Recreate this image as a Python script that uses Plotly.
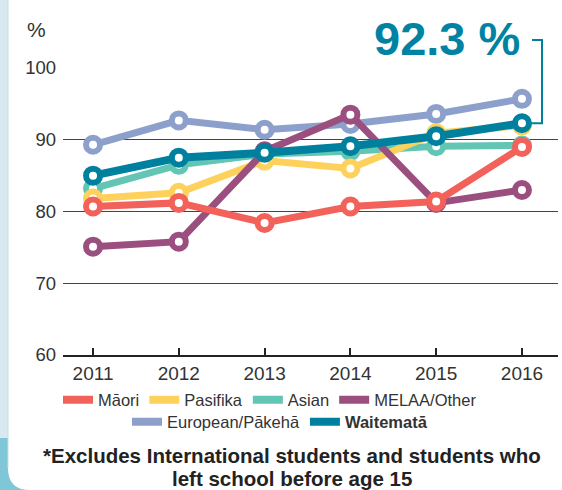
import plotly.graph_objects as go

years = [2011, 2012, 2013, 2014, 2015, 2016]
maori = [80.7, 81.2, 78.4, 80.7, 81.4, 89.0]
pasifika = [81.8, 82.6, 87.1, 86.0, 90.9, 92.0]
asian = [83.2, 86.5, 88.0, 88.4, 89.1, 89.2]
melaa = [75.1, 75.8, 88.4, 93.5, 81.2, 83.0]
european = [89.3, 92.7, 91.4, 92.2, 93.6, 95.7]
waitemata = [85.0, 87.5, 88.2, 89.1, 90.5, 92.3]
y_ticks = [60, 70, 80, 90, 100]
Y_MIN, Y_MAX = 60, 100

C_MAORI = "#f2625a"
C_PAS = "#fdd15b"
C_ASIAN = "#63c5b3"
C_MELAA = "#9a4f7f"
C_EURO = "#8da0cc"
C_WAIT = "#00809f"

W, H = 562, 490
L, R, T, B = 63, 4, 68, 135
PW, PH = W - L - R, H - T - B

def px(x):
    return (x - L) / PW

def py(y):
    return (H - B - y) / PH

def vy(v):
    return (v - Y_MIN) / (Y_MAX - Y_MIN)

fig = go.Figure()

series = [
    ("European/Pākehā", european, C_EURO, 7),
    ("Asian", asian, C_ASIAN, 7),
    ("Pasifika", pasifika, C_PAS, 7),
    ("MELAA/Other", melaa, C_MELAA, 7),
    ("Māori", maori, C_MAORI, 7),
    ("Waitematā", waitemata, C_WAIT, 8),
]
for name, vals, col, lw in series:
    fig.add_trace(go.Scatter(
        x=years, y=vals, mode="lines+markers", name=name, showlegend=False,
        line=dict(color=col, width=lw),
        marker=dict(size=14, color="white", line=dict(color=col, width=6)),
        cliponaxis=False, hoverinfo="x+y+name",
    ))

leg1 = [("Māori", C_MAORI), ("Pasifika", C_PAS), ("Asian", C_ASIAN), ("MELAA/Other", C_MELAA)]
leg2 = [("European/Pākehā", C_EURO), ("<b>Waitematā</b>", C_WAIT)]
for name, col in leg1:
    fig.add_trace(go.Scatter(x=[None], y=[None], mode="lines", name=name,
                             line=dict(color=col, width=8), legend="legend"))
for name, col in leg2:
    fig.add_trace(go.Scatter(x=[None], y=[None], mode="lines", name=name,
                             line=dict(color=col, width=8), legend="legend2"))

shapes = [
    dict(type="rect", xref="paper", yref="paper", x0=px(0), x1=px(8), y0=py(438), y1=py(0),
         fillcolor="#d7eaf0", line=dict(width=0), layer="below"),
    dict(type="rect", xref="paper", yref="paper", x0=px(0), x1=px(30), y0=py(490), y1=py(438),
         fillcolor="#7fc6d6", line=dict(width=0), layer="below"),
    dict(type="path", xref="paper", yref="paper", layer="below",
         path=(f"M {px(8)},{py(438)} L {px(8)},{py(468)} Q {px(8)},{py(490)} {px(30)},{py(490)} "
               f"L {px(40)},{py(490)} L {px(40)},{py(438)} Z"),
         fillcolor="white", line=dict(width=0)),
    dict(type="line", xref="paper", yref="paper", x0=px(8), x1=px(8), y0=py(468), y1=py(0),
         line=dict(color="#c9dde3", width=1), layer="below"),
]

# bracket around the final value
top = py(40)
bot = vy(waitemata[-1])
shapes.append(dict(type="line", xref="paper", yref="paper", x0=px(542), x1=px(542), y0=bot, y1=top,
                   line=dict(color="white", width=10), layer="above"))
shapes.append(dict(type="path", xref="paper", yref="paper", layer="above",
                   path=(f"M {px(532)},{top} L {px(542)},{top} L {px(542)},{bot} "
                         f"L {px(530)},{bot}"),
                   line=dict(color=C_WAIT, width=2)))

annotations = [
    dict(text="%", xref="paper", yref="paper", x=px(25), y=py(30), xanchor="left", yanchor="middle",
         showarrow=False, font=dict(size=21, color="#333")),
    dict(text=f"<b>{waitemata[-1]} %</b>", xref="x", yref="paper", x=2016, y=py(39),
         xanchor="right", yanchor="middle", showarrow=False,
         font=dict(size=47, color="#0083a3", family="Liberation Sans")),
    dict(text="<b>*Excludes International students and students who</b>",
         xref="paper", yref="paper", x=px(292), y=py(455), xanchor="center", yanchor="middle",
         showarrow=False, font=dict(size=20.5, color="#222")),
    dict(text="<b>left school before age 15</b>",
         xref="paper", yref="paper", x=px(292), y=py(478), xanchor="center", yanchor="middle",
         showarrow=False, font=dict(size=20.5, color="#222")),
]

fig.update_layout(
    width=W, height=H,
    margin=dict(l=L, r=R, t=T, b=B),
    paper_bgcolor="white", plot_bgcolor="white",
    font=dict(family="Liberation Sans, Arial, sans-serif", color="#333"),
    xaxis=dict(range=[2010.65, 2016.42], tickvals=years, ticks="inside", ticklen=7,
               tickwidth=1.5, tickcolor="#222", showline=True, linecolor="#222", linewidth=2,
               showgrid=False, zeroline=False, tickfont=dict(size=19, color="#333")),
    yaxis=dict(range=[Y_MIN, Y_MAX], tickvals=y_ticks, showgrid=True, gridcolor="#444", gridwidth=1.3,
               zeroline=False, showline=False, ticks="", ticklabelstandoff=6,
               tickfont=dict(size=18.5, color="#333")),
    legend=dict(orientation="h", x=px(270), y=py(400), xanchor="center", yanchor="middle",
                font=dict(size=16.5, color="#333"), itemwidth=30, tracegroupgap=0,
                bgcolor="rgba(0,0,0,0)"),
    legend2=dict(orientation="h", x=px(280), y=py(422), xanchor="center", yanchor="middle",
                 font=dict(size=16.5, color="#333"), itemwidth=30,
                 bgcolor="rgba(0,0,0,0)"),
    shapes=shapes,
    annotations=annotations,
    showlegend=True,
)

fig.write_html("out.html")
